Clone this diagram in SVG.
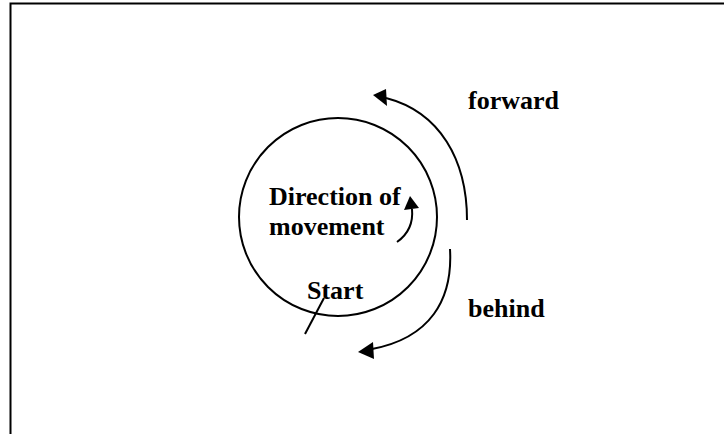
<svg xmlns="http://www.w3.org/2000/svg" width="724" height="434" viewBox="0 0 724 434">
<style>
.t{font-family:"Liberation Serif","Times New Roman",serif;font-weight:bold;font-size:26px;fill:#000}
.ln{fill:none;stroke:#000;stroke-width:2}
.ah{fill:#000;stroke:none}
</style>
<rect width="724" height="434" fill="#fff"/>
<path d="M10.5,434 V3.5 H724" fill="none" stroke="#000" stroke-width="2"/>
<g id="circle">
<circle cx="338" cy="217" r="99" class="ln"/>
</g>
<g id="direction">
<text class="t" x="269" y="205">Direction of</text>
<text class="t" x="269" y="235">movement</text>
</g>
<g id="start">
<text class="t" x="307" y="299">Start</text>
</g>
<g id="forward">
<text class="t" x="468" y="109">forward</text>
</g>
<g id="behind">
<text class="t" x="468" y="317">behind</text>
</g>
<g id="connectors">
<path class="ln" d="M467,220 C467,160 440,112 386,98"/>
<polygon class="ah" points="373,95 386,89 387,106"/>
<path class="ln" d="M450,249 C453,300 430,338 372,349"/>
<polygon class="ah" points="358,352 373,342 374,359"/>
<path class="ln" d="M397,242 Q414,230 412,209"/>
<polygon class="ah" points="410,196 404,210 419,208"/>
<path class="ln" d="M305,334 L324,298"/>
</g>
</svg>
